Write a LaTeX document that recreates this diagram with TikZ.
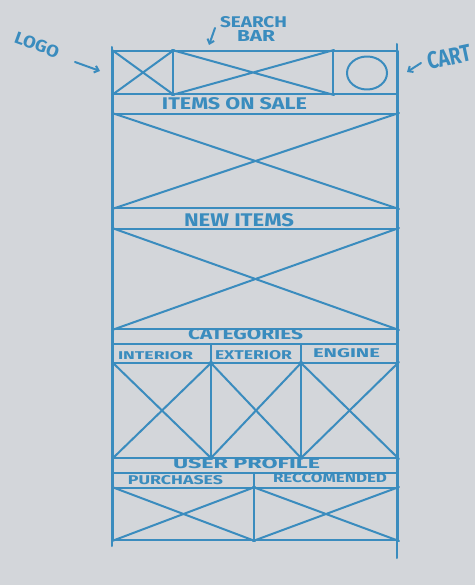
\documentclass[tikz,border=0pt]{standalone}
\usepackage{fontspec}
\setmainfont{Fira Sans}
\usetikzlibrary{arrows.meta}
\definecolor{board}{RGB}{211,214,218}
\definecolor{marker}{RGB}{58,140,190}
\newcommand{\boardtext}[3]{\resizebox{#1pt}{#2pt}{\bfseries #3}}
\begin{document}
\begin{tikzpicture}[x=1pt,y=-1pt,
  ink/.style={draw=marker,line width=2pt,line cap=round,line join=round},
  cell/.style={ink,rectangle,inner sep=0pt,anchor=north west},
  lbl/.style={text=marker,inner sep=0pt},
  pointer/.style={ink,-{Straight Barb[length=4pt,width=7pt]}}
]
\fill[board] (0,0) rectangle (475,585);
\useasboundingbox (0,0) rectangle (475,585);

% header
\node[cell,minimum width=60pt,minimum height=43pt] (logo) at (112,50) {};
\node[cell,minimum width=160pt,minimum height=43pt] (search) at (172,50) {};
\node[cell,minimum width=65pt,minimum height=43pt] (cart) at (332,50) {};
\draw[ink] (367,73) ellipse [x radius=20, y radius=16.5];

% rows
\node[cell,minimum width=285pt,minimum height=20pt] (salelbl) at (112,93) {};
\node[cell,minimum width=285pt,minimum height=94pt] (saleimg) at (112,113) {};
\node[cell,minimum width=285pt,minimum height=21pt] (newlbl) at (112,207) {};
\node[cell,minimum width=285pt,minimum height=100pt] (newimg) at (112,228) {};
\node[cell,minimum width=285pt,minimum height=15pt] (catlbl) at (112,328) {};
\node[cell,minimum width=98pt,minimum height=19pt] (intlbl) at (112,343) {};
\node[cell,minimum width=90pt,minimum height=19pt] (extlbl) at (210,343) {};
\node[cell,minimum width=97pt,minimum height=19pt] (englbl) at (300,343) {};
\node[cell,minimum width=98pt,minimum height=95pt] (intimg) at (112,362) {};
\node[cell,minimum width=90pt,minimum height=95pt] (extimg) at (210,362) {};
\node[cell,minimum width=97pt,minimum height=95pt] (engimg) at (300,362) {};
\node[cell,minimum width=285pt,minimum height=15pt] (userlbl) at (112,457) {};
\node[cell,minimum width=141pt,minimum height=15pt] (purlbl) at (112,472) {};
\node[cell,minimum width=144pt,minimum height=15pt] (reclbl) at (253,472) {};
\node[cell,minimum width=141pt,minimum height=52pt] (purimg) at (112,487) {};
\node[cell,minimum width=144pt,minimum height=52pt] (recimg) at (253,487) {};

% crosses
\foreach \n in {logo,search,saleimg,newimg,intimg,extimg,engimg,purimg,recimg}
  \draw[ink] (\n.north west) -- (\n.south east) (\n.south west) -- (\n.north east);

% frame overhang
\draw[ink] (112,47) -- (112,546);
\draw[ink] (397,44) -- (397,558);

% labels
\node[lbl] (t1) at (234.5,103.5) {\boardtext{145}{12}{ITEMS ON SALE}};
\node[lbl] (t2) at (239,220) {\boardtext{110}{13}{NEW ITEMS}};
\node[lbl] (t3) at (245.5,334.5) {\boardtext{115}{11}{CATEGORIES}};
\node[lbl] (t4) at (155.5,356) {\boardtext{75}{8}{INTERIOR}};
\node[lbl] (t5) at (253.5,355) {\boardtext{77}{9}{EXTERIOR}};
\node[lbl] (t6) at (346.5,353) {\boardtext{67}{9}{ENGINE}};
\node[lbl] (t7) at (246.5,464) {\boardtext{147}{10}{USER PROFILE}};
\node[lbl] (t8) at (175.5,480.5) {\boardtext{95}{9}{PURCHASES}};
\node[lbl] (t9) at (330,478.5) {\boardtext{114}{9}{RECCOMENDED}};

% annotations
\node[lbl,rotate=-20] (logoword) at (37,45) {\boardtext{46}{12}{LOGO}};
\node[lbl] (searchword) at (253.5,22.5) {\boardtext{67}{11}{SEARCH}};
\node[lbl] (barword) at (256,36) {\boardtext{38}{11}{BAR}};
\node[lbl,rotate=12] (cartword) at (449,57) {\boardtext{44}{17}{CART}};

\coordinate (logoA) at (75,62);
\coordinate (logoB) at (100,71);
\coordinate (searchA) at (215,28);
\coordinate (searchB) at (209,45);
\coordinate (cartA) at (421,63);
\coordinate (cartB) at (407,72);
\draw[pointer] (logoA) -- (logoB);
\draw[pointer] (searchA) -- (searchB);
\draw[pointer] (cartA) -- (cartB);
\end{tikzpicture}
\end{document}
